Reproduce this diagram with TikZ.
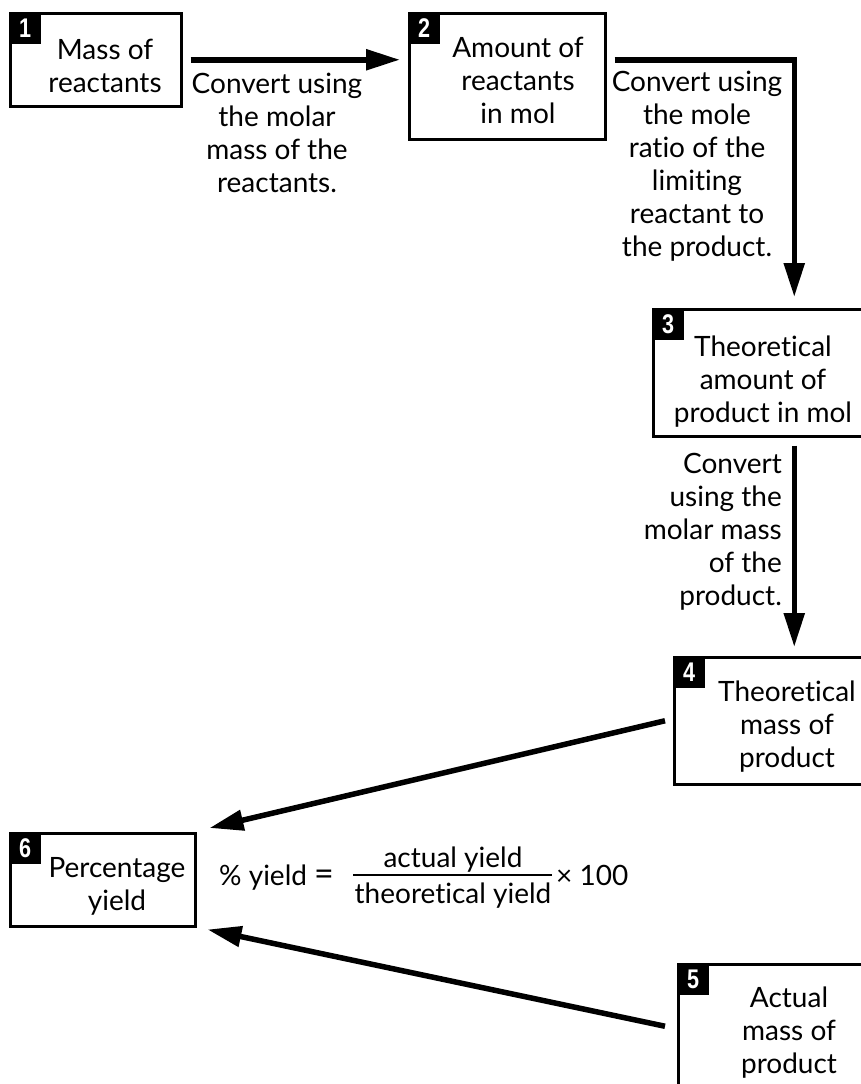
\documentclass[tikz,border=0pt]{standalone}
\usepackage{fontspec}
\setmainfont{Lato}[RawFeature={-liga;-dlig}]
\newfontfamily\numfont{Liberation Sans}
\usetikzlibrary{arrows.meta}
\begin{document}
\begin{tikzpicture}[x=1pt,y=-1pt,
  boxnode/.style={draw, line width=2.5pt, anchor=north west, inner sep=0pt},
  numbox/.style={fill=black, anchor=north west, minimum size=32pt, inner sep=0pt, text=white,
     font=\numfont\bfseries\fontsize{27}{27}\selectfont},
  lbl/.style={align=center, inner sep=0pt, font=\fontsize{28}{33}\selectfont},
  frm/.style={inner sep=0pt, font=\fontsize{28}{33}\selectfont},
  arr/.style={line width=5.5pt, line join=miter, -{Triangle[length=34pt,width=20pt]}}]
\useasboundingbox (0,0) rectangle (861,1084);
\fill[white] (0,0) rectangle (861,1084);
\clip (0,0) rectangle (861,1084);
% boxes
\node[boxnode, minimum width=171, minimum height=93] (b1) at (9,12) {};
\node[boxnode, minimum width=196, minimum height=126] (b2) at (408,12) {};
\node[boxnode, minimum width=282, minimum height=127] (b3) at (652,308) {};
\node[boxnode, minimum width=240, minimum height=127] (b4) at (673,656) {};
\node[boxnode, minimum width=232, minimum height=124] (b5) at (677,963) {};
\node[boxnode, minimum width=185, minimum height=93] (b6) at (9,832) {};
% numbers
\node[numbox] (n1) at (b1.north west) {\scalebox{0.8}[1]{1}};
\node[numbox] (n2) at (b2.north west) {\scalebox{0.8}[1]{2}};
\node[numbox] (n3) at (b3.north west) {\scalebox{0.8}[1]{3}};
\node[numbox] (n4) at (b4.north west) {\scalebox{0.8}[1]{4}};
\node[numbox] (n5) at (b5.north west) {\scalebox{0.8}[1]{5}};
\node[numbox] (n6) at (b6.north west) {\scalebox{0.8}[1]{6}};
% box texts
\node[lbl] (t1) at (105,66) {Mass of\\reactants};
\node[lbl] (t2) at (518,80) {Amount of\\reactants\\in mol};
\node[lbl] (t3) at (763,382) {Theoretical\\amount of\\product in mol};
\node[lbl] (t4) at (787,727) {Theoretical\\mass of\\product};
\node[lbl] (t5) at (789,1033) {Actual\\mass of\\product};
\node[lbl] (t6) at (117,886) {Percentage\\yield};
% conversion texts
\node[lbl] (c1) at (277,133) {Convert using\\the molar\\mass of the\\reactants.};
\node[lbl] (c2) at (697,166) {Convert using\\the mole\\ratio of the\\limiting\\reactant to\\the product.};
\node[lbl, align=right, anchor=east] (c3) at (782,532) {Convert\\using the\\molar mass\\of the\\product.};
% arrows
\draw[arr] ([xshift=8pt]b1.east) -- ([xshift=-8pt]b1.east -| b2.west);
\draw[arr] ([xshift=8pt]b1.east -| b2.east) -| ([yshift=11pt]b3.north);
\draw[arr] ([yshift=-8pt]b3.south) -- ([yshift=9pt]b4.north);
\draw[arr] ([xshift=-8pt]b4.west) -- ([xshift=13pt,yshift=4pt]b6.north east);
\draw[arr] ([xshift=-12pt]b5.west) -- ([xshift=11pt,yshift=-2pt]b6.south east);
% formula
\node[frm, anchor=base west] (fa) at (219,885) {\% yield {\fontsize{34}{34}\selectfont=}};
\node[frm, anchor=base] (fn) at (453,867) {actual yield};
\node[frm, anchor=base] (fd) at (453,903) {theoretical yield};
\draw[line width=2pt] (353,875) -- (552,875);
\node[frm, anchor=base west] (fx) at (556,885) {× 100};
\end{tikzpicture}
\end{document}
